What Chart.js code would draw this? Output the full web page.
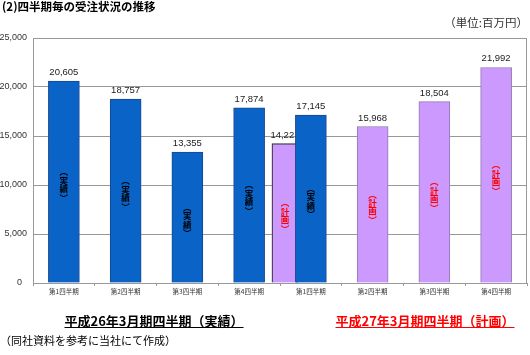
<!DOCTYPE html>
<html><head><meta charset="utf-8">
<script src="https://cdn.jsdelivr.net/npm/chart.js@4/dist/chart.umd.min.js"></script>
<style>
html,body{margin:0;padding:0;background:#fff;}
#wrap{position:relative;width:530px;height:355px;overflow:hidden;font-family:"Noto Sans CJK JP",sans-serif;color:#000;}
canvas{position:absolute;left:0;top:0;}
.t{position:absolute;white-space:nowrap;line-height:1;}
</style></head><body>
<div id="wrap">
<canvas id="c" width="530" height="355"></canvas>
<div class="t" style="left:2px;top:1px;font-size:11.5px;font-weight:bold;">(2)四半期毎の受注状況の推移</div>
<div class="t" style="right:2px;top:17px;font-size:11.5px;color:#333;">（単位:百万円）</div>
<div class="t" style="left:154px;top:314px;transform:translateX(-50%);font-size:13px;font-weight:bold;text-decoration:underline;">平成26年3月期四半期（実績）</div>
<div class="t" style="left:425px;top:314px;transform:translateX(-50%);font-size:13px;font-weight:bold;text-decoration:underline;color:#ff0000;">平成27年3月期四半期（計画）</div>
<div class="t" style="left:0;top:335px;font-size:11px;">（同社資料を参考に当社にて作成）</div>
</div>
<script>
const quarterLabels = ['第1四半期','第2四半期','第3四半期','第4四半期','第1四半期','第2四半期','第3四半期','第4四半期'];
const actualValues = [20605, 18757, 13355, 17874, 17145, null, null, null];
const planValues   = [null, null, null, null, 14221, 15968, 18504, 21992];
const yTickValues  = [0, 5000, 10000, 15000, 20000, 25000];
const actualTag = '実績';
const planTag = '計画';

const OVERLAP_SHIFT = 0.42;
const actualPts = [], planPts = [], planOverlapPts = [];
actualValues.forEach((v, i) => { if (v != null) actualPts.push({x: i + 1, y: v}); });
planValues.forEach((v, i) => {
  if (v == null) return;
  if (actualValues[i] != null) planOverlapPts.push({x: i + 1 - OVERLAP_SHIFT, y: v});
  else planPts.push({x: i + 1, y: v});
});

const numFont = '"Liberation Sans", Arial, sans-serif';
const jpFont = '"Noto Sans CJK JP", sans-serif';

function inkCentered(ctx, ch, x, y) {
  const m = ctx.measureText(ch);
  const asc = m.actualBoundingBoxAscent, desc = m.actualBoundingBoxDescent;
  ctx.textBaseline = 'alphabetic';
  ctx.fillText(ch, x, y + (asc - desc) / 2);
}

const barLabels = {
  id: 'barLabels',
  afterDatasetDraw(chart, args) {
    const ctx = chart.ctx;
    const ds = chart.data.datasets[args.index];
    const meta = args.meta;
    ctx.save();
    meta.data.forEach((el, j) => {
      const v = ds.data[j].y;
      ctx.font = '9.5px ' + numFont;
      ctx.fillStyle = '#222';
      ctx.textAlign = 'center';
      ctx.textBaseline = 'alphabetic';
      ctx.fillText(v.toLocaleString('en-US'), el.x, el.y - 6);
      // vertical tag
      const tag = ds.tag;
      const cy = (el.y + el.base) / 2 + 3;
      ctx.fillStyle = ds.tagColor;
      const chH = 8.5, parH = 3.5;
      const total = parH * 2 + chH * tag.length;
      let y = cy - total / 2;
      ctx.font = 'bold 8.5px ' + jpFont;
      inkCentered(ctx, '\uFE35', el.x, y + parH / 2);
      y += parH;
      for (const ch of tag) {
        inkCentered(ctx, ch, el.x, y + chH / 2);
        y += chH;
      }
      inkCentered(ctx, '\uFE36', el.x, y + parH / 2);
    });
    ctx.restore();
  }
};

const frame = {
  id: 'frame',
  beforeDatasetsDraw(chart) {
    const {ctx, chartArea: a} = chart;
    ctx.save();
    ctx.strokeStyle = '#999';
    ctx.lineWidth = 1;
    ctx.beginPath();
    ctx.moveTo(Math.round(a.right) - 0.5, a.top);
    ctx.lineTo(Math.round(a.right) - 0.5, a.bottom);
    ctx.stroke();
    ctx.restore();
  }
};

new Chart(document.getElementById('c'), {
  type: 'bar',
  data: {
    datasets: [
      {data: actualPts, tag: actualTag, tagColor: '#000', backgroundColor: '#0a64c8', borderColor: '#1a4590', borderWidth: 1, barThickness: 31, grouped: false},
      {data: planPts, tag: planTag, tagColor: '#ff0000', backgroundColor: '#cc99ff', borderColor: '#8f7aae', borderWidth: 1, barThickness: 31, grouped: false},
      {data: planOverlapPts, tag: planTag, tagColor: '#ff0000', backgroundColor: '#cc99ff', borderColor: '#333', borderWidth: 1.2, barThickness: 26, grouped: false}
    ]
  },
  options: {
    responsive: false,
    animation: false,
    layout: {padding: {left: 0, top: 38, right: 3, bottom: 52}},
    plugins: {legend: {display: false}, tooltip: {enabled: false}},
    scales: {
      x: {
        type: 'linear', min: 0.5, max: 8.5, offset: false,
        afterBuildTicks: s => { s.ticks = quarterLabels.map((_, i) => ({value: i + 1})); },
        afterFit: s => { s.height = 20; },
        ticks: {autoSkip: false, maxRotation: 0, callback: (v, i) => quarterLabels[i], font: {size: 6.5, family: jpFont}, color: '#333', padding: 2},
        grid: {offset: true, drawOnChartArea: false, drawTicks: true, tickLength: 3, color: '#999'},
        border: {color: '#999'}
      },
      y: {
        min: 0, max: 25000,
        afterBuildTicks: s => { s.ticks = yTickValues.map(v => ({value: v})); },
        afterFit: s => { s.width = 33; },
        ticks: {callback: v => v === 0 ? '0\u2007' : v.toLocaleString('en-US'), font: {size: 9, family: numFont}, color: '#333', padding: 6},
        grid: {color: '#999', drawTicks: false},
        border: {color: '#999'}
      }
    }
  },
  plugins: [frame, barLabels]
});
</script>
</body></html>
